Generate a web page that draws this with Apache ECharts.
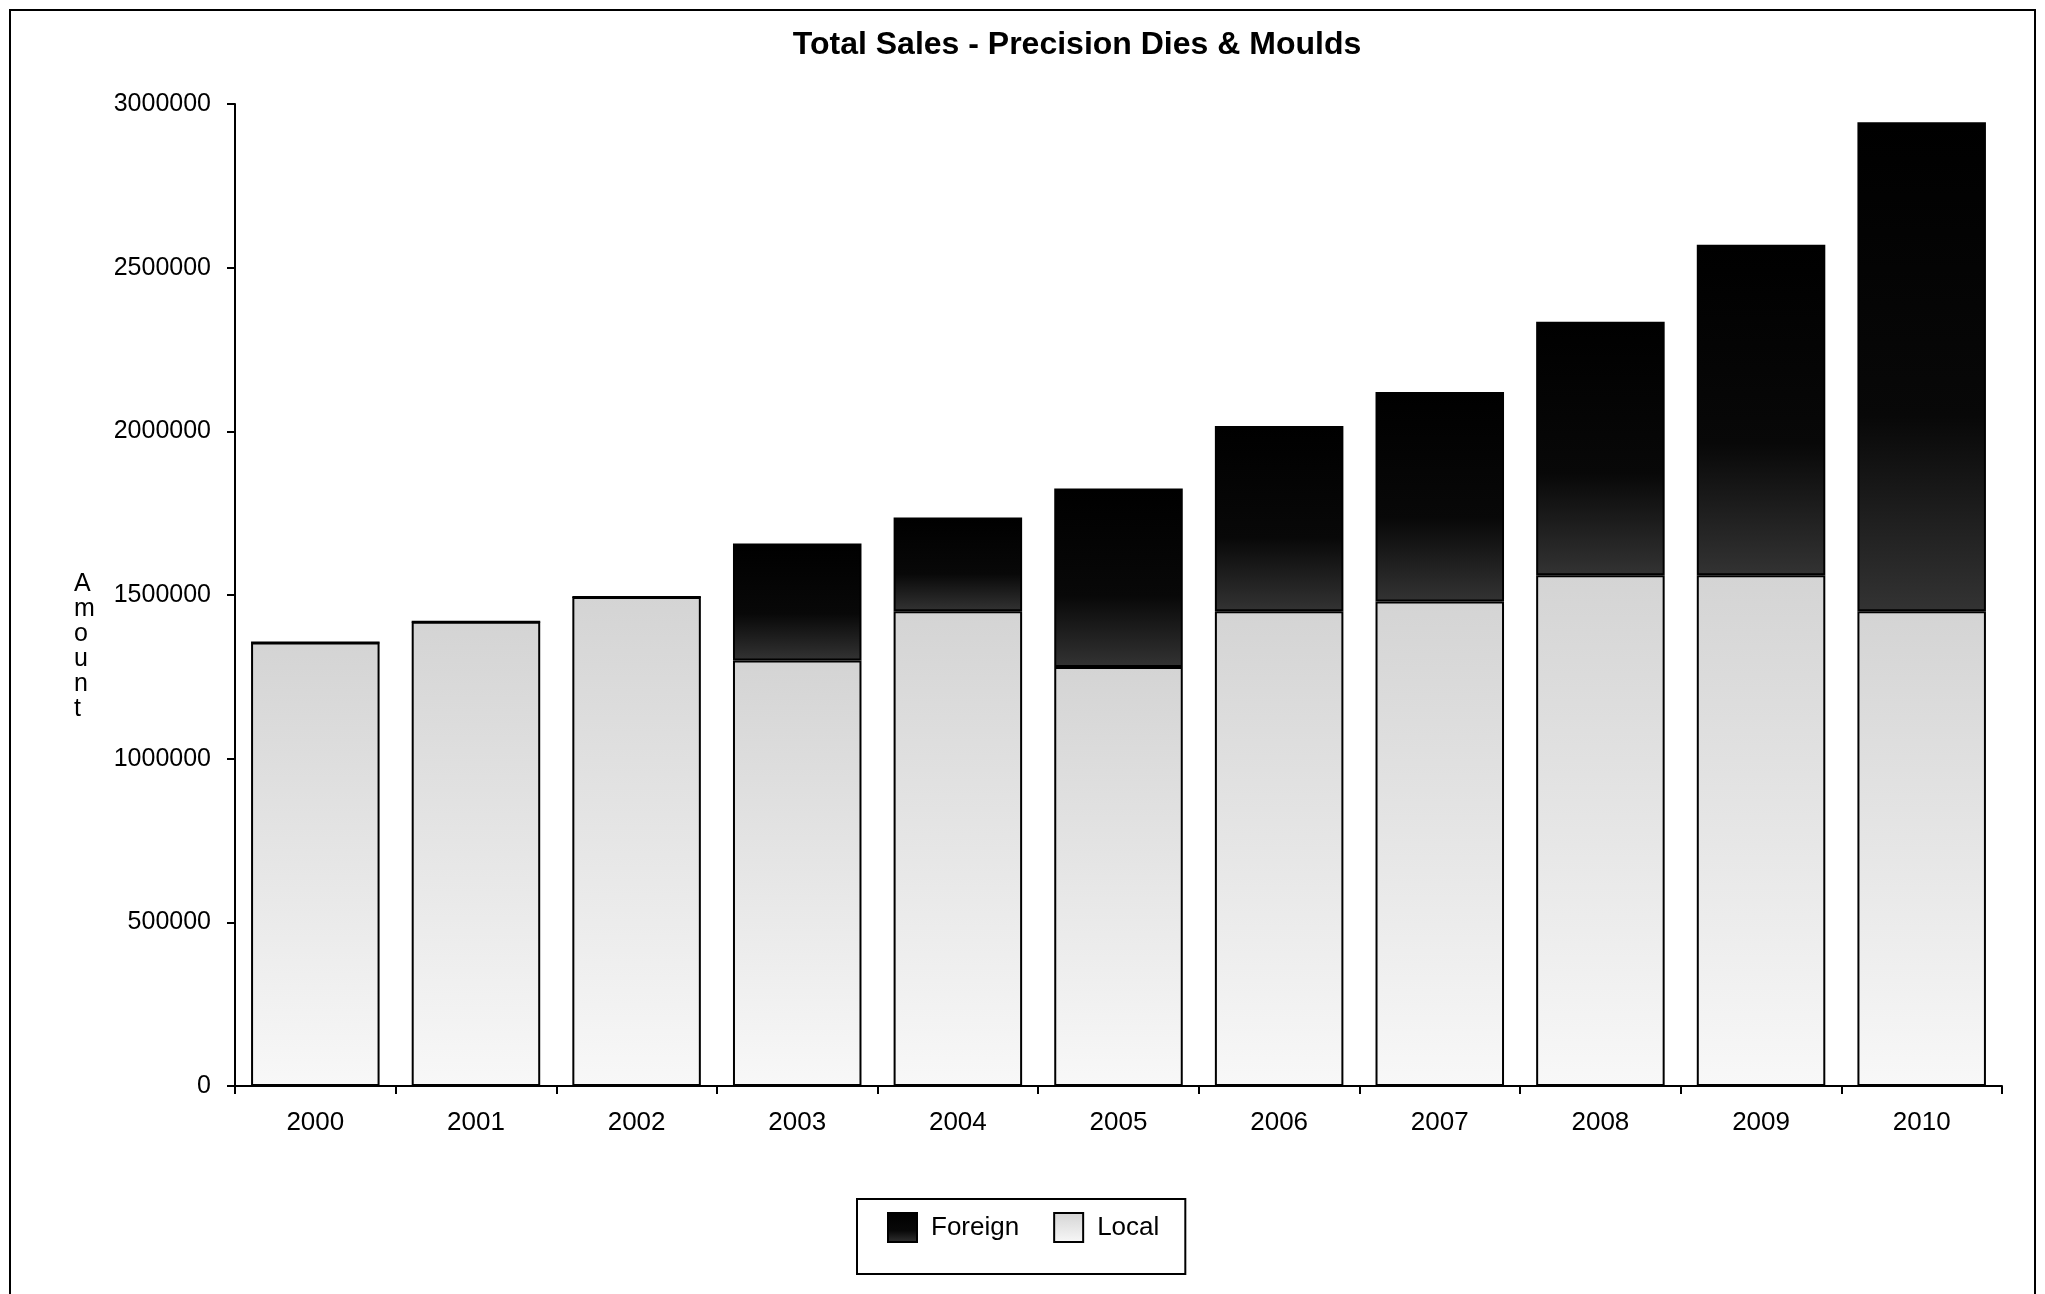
<!DOCTYPE html>
<html><head><meta charset="utf-8">
<script src="https://cdn.jsdelivr.net/npm/echarts@6/dist/echarts.min.js"></script>
<style>html,body{margin:0;padding:0;background:#fff}#c{width:2045px;height:1294px}</style>
</head><body><div id="c"></div>
<script>
const years = ['2000','2001','2002','2003','2004','2005','2006','2007','2008','2009','2010'];
const localSales = [1355000,1418000,1494000,1300000,1450000,1280000,1450000,1480000,1560000,1560000,1450000];
const foreignSales = [0,0,0,357000,287000,545000,566000,640000,775000,1010000,1494000];
const yTicks = [0,500000,1000000,1500000,2000000,2500000,3000000];

const F = 'Liberation Sans, Arial, sans-serif';
const chart = echarts.init(document.getElementById('c'));
chart.setOption({
  backgroundColor:'#fff',
  animation:false,
  title:{text:'Total Sales - Precision Dies & Moulds',left:1072,textAlign:'center',top:24,
    textStyle:{fontFamily:F,fontSize:32,fontWeight:'bold',color:'#000'}},
  grid:{left:235,right:43,top:104,bottom:208},
  legend:{left:857,top:1199,padding:[13,26,31,30],itemGap:34,
    borderColor:'#000',borderWidth:2,itemWidth:29,itemHeight:29,icon:'rect',
    textStyle:{fontFamily:F,fontSize:26,color:'#000',padding:[0,0,0,9]},
    data:['Foreign','Local']},
  xAxis:{type:'category',data:years,
    axisLine:{lineStyle:{color:'#000',width:2}},
    axisTick:{show:true,length:8,lineStyle:{color:'#000',width:2}},
    axisLabel:{fontFamily:F,fontSize:26,color:'#000',margin:24}},
  yAxis:{type:'value',min:0,max:3000000,interval:500000,
    axisLine:{show:true,lineStyle:{color:'#000',width:2}},
    axisTick:{show:true,length:8,lineStyle:{color:'#000',width:2}},
    splitLine:{show:false},
    axisLabel:{fontFamily:F,fontSize:25,color:'#000',margin:24,
      formatter:v=>yTicks.includes(v)?String(v):''}},
  series:[
    {name:'Local',type:'bar',stack:'s',data:localSales,barCategoryGap:'20%',
      itemStyle:{borderColor:'#000',borderWidth:2,
        color:new echarts.graphic.LinearGradient(0,0,0,1,[{offset:0,color:'#d4d4d4'},{offset:1,color:'#f8f8f8'}])}},
    {name:'Foreign',type:'bar',stack:'s',data:foreignSales,
      itemStyle:{borderColor:'#000',borderWidth:2,
        color:new echarts.graphic.LinearGradient(0,0,0,1,[{offset:0,color:'#000'},{offset:0.6,color:'#080808'},{offset:1,color:'#333'}])}}
  ],
  graphic:[
    {type:'rect',shape:{x:10,y:10,width:2025,height:1300},style:{fill:'none',stroke:'#000',lineWidth:2},silent:true},
    {type:'text',left:74,top:572,style:{text:'A\nm\no\nu\nn\nt',fontFamily:F,fontSize:25,lineHeight:25,fill:'#000',align:'center',width:22}}
  ]
});
</script></body></html>
